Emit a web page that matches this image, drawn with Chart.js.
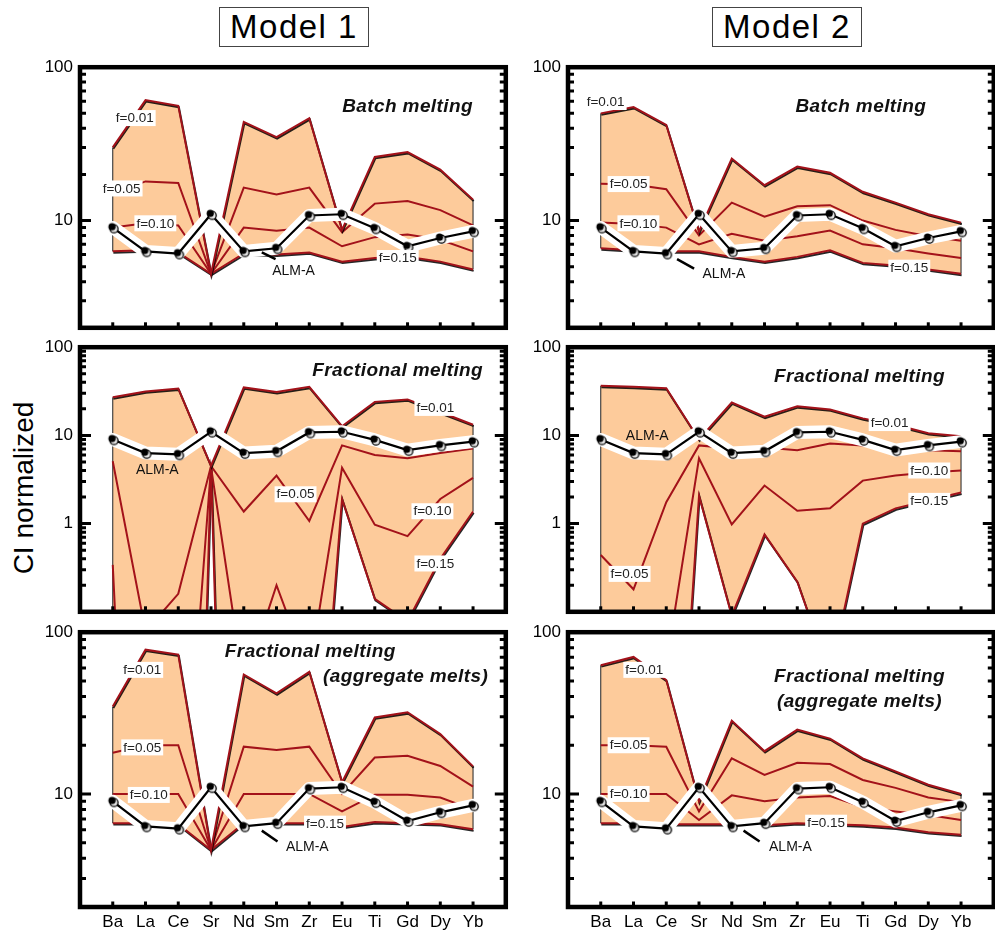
<!DOCTYPE html>
<html>
<head>
<meta charset="utf-8">
<script src="https://cdn.jsdelivr.net/npm/chart.js@4.4.1/dist/chart.umd.min.js"></script>
<style>
  body { margin: 0; background: #fff; width: 995px; height: 931px; overflow: hidden; position: relative;
         font-family: "Liberation Sans", Arial, sans-serif; }
  canvas { position: absolute; }
  .model { position: absolute; top: 7px; width: 148px; height: 38px; border: 1.3px solid #444;
           font-size: 33px; line-height: 38px; text-align: center; letter-spacing: 1.5px; color: #000; }
  #ylab { position: absolute; left: 24px; top: 488px; font-size: 28px; white-space: nowrap;
          transform: translate(-50%, -50%) rotate(-90deg); color: #000; }
</style>
</head>
<body>
<div class="model" style="left:219px">Model 1</div>
<div class="model" style="left:712px">Model 2</div>
<div id="ylab">CI normalized</div>
<canvas id="p1a"></canvas>
<canvas id="p1b"></canvas>
<canvas id="p2a"></canvas>
<canvas id="p2b"></canvas>
<canvas id="p3a"></canvas>
<canvas id="p3b"></canvas>
<script>
// ---------------- DATA ----------------
const elements = ['Ba', 'La', 'Ce', 'Sr', 'Nd', 'Sm', 'Zr', 'Eu', 'Ti', 'Gd', 'Dy', 'Yb'];
const fLabels = ['f=0.01', 'f=0.05', 'f=0.10', 'f=0.15'];

// sample
const almA = [9.0, 6.3, 6.1, 11.0, 6.3, 6.6, 10.8, 11.0, 8.9, 6.8, 7.7, 8.5];

// Model 1, batch melting
const m1BatchF01 = [30, 61, 56, 4.5, 44, 35, 46.5, 8.7, 26, 28, 21.5, 13.7];
const m1BatchF05 = [15, 18, 17.6, 4.5, 16.4, 14.8, 16.4, 8.4, 12.9, 13.4, 11.7, 9.3];
const m1BatchF10 = [9.0, 9.6, 9.3, 4.5, 9.0, 8.6, 9.0, 6.8, 7.8, 8.1, 7.5, 6.3];
const m1BatchF15 = [6.3, 6.4, 6.2, 4.5, 6.1, 6.0, 6.2, 5.4, 5.7, 5.8, 5.4, 4.8];

// Model 2, batch melting
const m2BatchF01 = [50, 55, 42, 8.5, 25.4, 17, 22.5, 20.5, 15.4, 13.1, 11, 9.7];
const m2BatchF05 = [17.4, 17.2, 16, 8.0, 13.1, 10.6, 12.4, 12.6, 10, 8.7, 7.9, 7.4];
const m2BatchF10 = [9.7, 9.5, 9.0, 7.0, 8.2, 7.4, 7.9, 8.6, 7.0, 6.6, 6.1, 5.7];
const m2BatchF15 = [6.6, 6.4, 6.3, 6.3, 5.8, 5.4, 5.8, 6.4, 5.3, 5.1, 4.8, 4.5];

// Model 1, fractional melting
const m1FracF01 = [27, 31.5, 34, 4.5, 35, 31, 35.5, 12.7, 24, 25.6, 18.4, 13.2];
const m1FracF05 = [5.1, 0.06, 0.16, 4.5, 1.37, 3.5, 1.07, 7.7, 6.0, 5.5, 6.3, 7.1];
const m1FracF10 = [0.34, 1e-8, 5e-5, 4.4, 0.015, 0.2, 0.02, 4.3, 0.97, 0.72, 1.9, 3.3];
const m1FracF15 = [1e-3, 1e-9, 1e-12, 4.3, 1e-12, 1e-6, 4e-5, 1.9, 0.14, 0.078, 0.4, 1.37];

// Model 2, fractional melting
const m2FracF01 = [36.5, 35.6, 34.2, 9, 23.6, 16.3, 21.4, 19.7, 15.6, 13.2, 10.6, 9.75];
const m2FracF05 = [0.44, 0.18, 1.75, 7.7, 7.1, 7.3, 6.8, 8.1, 7.7, 7.1, 6.8, 6.6];
const m2FracF10 = [1e-3, 1e-3, 0.025, 5.5, 0.98, 2.7, 1.4, 1.49, 3.07, 3.5, 3.8, 4.0];
const m2FracF15 = [1e-4, 1e-5, 5e-6, 2.07, 0.09, 0.755, 0.22, 0.019, 1.0, 1.49, 1.83, 2.25];

// Model 1, aggregate fractional melts
const m1AggF01 = [34.7, 78, 72.7, 4.5, 54.8, 41.9, 56.9, 11.8, 29.7, 32, 23.5, 14.8];
const m1AggF05 = [18, 20, 20, 4.5, 19.6, 18.7, 19.6, 10, 16.8, 17.2, 14.9, 11.1];
const m1AggF10 = [10, 10, 10, 4.5, 10, 10, 10, 7.8, 9.9, 9.9, 9.5, 8.0];
const m1AggF15 = [6.6, 6.6, 6.5, 4.5, 6.6, 6.6, 6.6, 6.25, 6.7, 6.6, 6.5, 6.05];

// Model 2, aggregate fractional melts
const m2AggF01 = [62.5, 70.3, 50.6, 9, 28.4, 18.4, 25, 22, 16.6, 13.8, 11.4, 10];
const m2AggF05 = [20, 20, 19.6, 7.8, 16.6, 13.1, 15.6, 15.3, 12.2, 10.9, 9.5, 8.9];
const m2AggF10 = [10, 10, 10, 6.9, 9.8, 9.0, 9.5, 9.7, 8.3, 7.8, 7.4, 6.9];
const m2AggF15 = [6.6, 6.6, 6.5, 6.5, 6.5, 6.4, 6.6, 6.5, 6.4, 6.2, 5.8, 5.6];

// ---------------- STYLE ----------------
const FONT = '"Liberation Sans", Arial, sans-serif';
const BAND = '#fdcb9b';
const RED = '#a3121a';

// ---------------- PANELS ----------------
const panels = [
  { id: 'p1a', left: 20, top: 50, height: 295, padTop: 15, padRight: 6, min: 2, showX: false,
    series: [m1BatchF01, m1BatchF05, m1BatchF10, m1BatchF15],
    tags: [[0.67, 46.6], [0.27, 16.2], [1.3, 9.6], [8.7, 5.7]],
    alm: { at: [5.52, 4.7], lead: [4.55, 6.2, 4.97, 5.6] },
    title: [['Batch melting', 9.0, 55]] },
  { id: 'p1b', left: 508, top: 50, height: 295, padTop: 15, padRight: 4, min: 2, showX: false,
    series: [m2BatchF01, m2BatchF05, m2BatchF10, m2BatchF15],
    tags: [[0.15, 59.3], [0.85, 17.3], [1.15, 9.6], [9.42, 4.93]],
    alm: { at: [3.76, 4.47], lead: [2.33, 5.6, 2.85, 4.86] },
    title: [['Batch melting', 7.94, 55]] },
  { id: 'p2a', left: 20, top: 330, height: 299, padTop: 17, padRight: 6, min: 0.1, showX: false,
    series: [m1FracF01, m1FracF05, m1FracF10, m1FracF15],
    tags: [[9.85, 20.5], [5.58, 2.15], [9.76, 1.38], [9.85, 0.353]],
    alm: { at: [1.36, 4.0], lead: null },
    title: [['Fractional melting', 8.7, 53.8]] },
  { id: 'p2b', left: 508, top: 330, height: 299, padTop: 17, padRight: 4, min: 0.1, showX: false,
    series: [m2FracF01, m2FracF05, m2FracF10, m2FracF15],
    tags: [[8.82, 13.8], [0.88, 0.269], [10.03, 4.0], [10.03, 1.81]],
    alm: { at: [1.42, 9.75], lead: null },
    title: [['Fractional melting', 7.9, 46.4]] },
  { id: 'p3a', left: 20, top: 615, height: 316, padTop: 15, padRight: 6, min: 2, showX: true,
    series: [m1AggF01, m1AggF05, m1AggF10, m1AggF15],
    tags: [[0.9, 58.5], [0.9, 19.4], [1.1, 9.86], [6.48, 6.55]],
    alm: { at: [5.94, 4.67], lead: [4.55, 5.93, 5.03, 5.08] },
    title: [['Fractional melting', 6.03, 75.4], ['(aggregate melts)', 8.94, 53]] },
  { id: 'p3b', left: 508, top: 615, height: 316, padTop: 15, padRight: 4, min: 2, showX: true,
    series: [m2AggF01, m2AggF05, m2AggF10, m2AggF15],
    tags: [[1.33, 58.5], [0.85, 20], [0.85, 10], [6.88, 6.64]],
    alm: { at: [5.79, 4.67], lead: [4.36, 5.93, 4.85, 5.08] },
    title: [['Fractional melting', 7.9, 53], ['(aggregate melts)', 7.9, 37.2]] }
];

// sample marker: black dot with an offset open ring
const marker = document.createElement('canvas');
marker.width = 14; marker.height = 14;
(function () {
  const c = marker.getContext('2d');
  c.beginPath(); c.arc(8.2, 8.2, 4, 0, Math.PI * 2);
  c.fillStyle = '#e8e8e8'; c.fill();
  c.lineWidth = 1.3; c.strokeStyle = '#000'; c.stroke();
  c.beginPath(); c.arc(6.2, 6.2, 3.6, 0, Math.PI * 2);
  c.fillStyle = '#000'; c.fill();
})();

const pts = arr => arr.map((v, i) => ({ x: i, y: v }));

function notesPlugin(p) {
  return {
    id: 'notes',
    beforeDatasetsDraw(chart) {
      // close the band at both ends with a thin line
      const { ctx, chartArea: a, scales: { x, y } } = chart;
      const top = p.series[0], bot = p.series[3];
      ctx.save();
      ctx.beginPath(); ctx.rect(a.left, a.top, a.width, a.height); ctx.clip();
      ctx.strokeStyle = '#222'; ctx.lineWidth = 1;
      [0, elements.length - 1].forEach(i => {
        const px = x.getPixelForValue(i);
        ctx.beginPath();
        ctx.moveTo(px, y.getPixelForValue(top[i]));
        ctx.lineTo(px, y.getPixelForValue(bot[i]));
        ctx.stroke();
      });
      ctx.restore();
    },
    // band edges get a thin dark line just under the red one
    beforeDatasetDraw(chart, args) {
      if (args.index === 0 || args.index === 3) {
        const ctx = chart.ctx;
        ctx.shadowColor = 'rgba(0,0,0,0.85)';
        ctx.shadowBlur = 0;
        ctx.shadowOffsetX = 0.6;
        ctx.shadowOffsetY = 1.4;
      }
    },
    afterDatasetDraw(chart) {
      const ctx = chart.ctx;
      ctx.shadowColor = 'rgba(0,0,0,0)';
      ctx.shadowOffsetX = 0;
      ctx.shadowOffsetY = 0;
    },
    afterDatasetsDraw(chart) {
      const { ctx, scales: { x, y } } = chart;
      ctx.save();
      ctx.textAlign = 'center';
      ctx.textBaseline = 'middle';

      // f labels in white boxes
      ctx.font = '13.5px ' + FONT;
      p.tags.forEach((t, i) => {
        const px = x.getPixelForValue(t[0]), py = y.getPixelForValue(t[1]);
        const w = ctx.measureText(fLabels[i]).width;
        ctx.fillStyle = '#fff';
        ctx.fillRect(px - w / 2 - 2, py - 8, w + 4, 16);
        ctx.fillStyle = '#222';
        ctx.fillText(fLabels[i], px, py + 0.5);
      });

      // sample label
      if (p.alm.lead) {
        const l = p.alm.lead;
        ctx.strokeStyle = '#000'; ctx.lineWidth = 2.5;
        ctx.beginPath();
        ctx.moveTo(x.getPixelForValue(l[0]), y.getPixelForValue(l[1]));
        ctx.lineTo(x.getPixelForValue(l[2]), y.getPixelForValue(l[3]));
        ctx.stroke();
      }
      ctx.font = '14px ' + FONT;
      ctx.fillStyle = '#111';
      ctx.fillText('ALM-A', x.getPixelForValue(p.alm.at[0]), y.getPixelForValue(p.alm.at[1]));

      // panel title
      ctx.font = 'italic bold 19px ' + FONT;
      ctx.letterSpacing = '0.4px';
      p.title.forEach(t => ctx.fillText(t[0], x.getPixelForValue(t[1]), y.getPixelForValue(t[2])));
      ctx.restore();
    },
    afterDraw(chart) {
      // heavy frame with inward ticks
      const { ctx, chartArea: a, scales: { x, y } } = chart;
      ctx.save();
      ctx.strokeStyle = '#000';
      ctx.lineWidth = 3;
      for (let e = Math.floor(Math.log10(p.min)); e < 2; e++) {
        for (let k = 1; k <= 9; k++) {
          const v = k * Math.pow(10, e);
          if (v <= p.min * 1.0001 || v >= 100) continue;
          const py = y.getPixelForValue(v);
          const len = k === 1 ? 11 : 6;
          ctx.beginPath();
          ctx.moveTo(a.left, py); ctx.lineTo(a.left + len, py);
          ctx.moveTo(a.right, py); ctx.lineTo(a.right - len, py);
          ctx.stroke();
        }
      }
      elements.forEach((_, i) => {
        const px = x.getPixelForValue(i);
        ctx.beginPath();
        ctx.moveTo(px, a.bottom); ctx.lineTo(px, a.bottom - 5.5);
        ctx.stroke();
      });
      ctx.lineWidth = 4.5;
      ctx.strokeRect(a.left, a.top, a.width, a.height);
      ctx.restore();
    }
  };
}

panels.forEach(p => {
  const cv = document.getElementById(p.id);
  cv.width = 495; cv.height = p.height;
  cv.style.left = p.left + 'px'; cv.style.top = p.top + 'px';

  const lines = p.series.map((s, i) => ({
    data: pts(s),
    borderColor: RED,
    borderWidth: 2,
    pointRadius: 0,
    tension: 0,
    fill: i === 0 ? 3 : false,
    backgroundColor: BAND,
    order: 10
  }));

  new Chart(cv, {
    type: 'line',
    data: {
      datasets: [
        ...lines,
        { data: pts(almA), borderColor: '#fff', borderWidth: 13, borderJoinStyle: 'round',
          borderCapStyle: 'round', pointRadius: 0, fill: false, order: 5 },
        { data: pts(almA), borderColor: '#000', borderWidth: 2.2, pointStyle: marker,
          pointRadius: 7, fill: false, order: 1 }
      ]
    },
    options: {
      responsive: false,
      animation: false,
      devicePixelRatio: 1,
      layout: { padding: { top: p.padTop, right: p.padRight, bottom: p.showX ? 0 : 4, left: 0 } },
      plugins: {
        legend: { display: false },
        tooltip: { enabled: false },
        filler: { drawTime: 'beforeDatasetsDraw' }
      },
      scales: {
        x: {
          type: 'linear', min: -1, max: 12,
          display: p.showX,
          grid: { display: false, drawTicks: false },
          border: { display: false },
          afterBuildTicks: s => { s.ticks = elements.map((_, i) => ({ value: i })); },
          afterFit: s => { s.height = p.showX ? 24 : 0; },
          ticks: { autoSkip: false, maxRotation: 0, padding: 5, color: '#000',
                   font: { family: FONT, size: 17 }, callback: v => elements[v] }
        },
        y: {
          type: 'logarithmic', min: p.min, max: 100,
          grid: { display: false, drawTicks: false },
          border: { display: false },
          afterBuildTicks: s => {
            s.ticks = [100, 10, 1].filter(v => v > p.min).map(v => ({ value: v }));
          },
          afterFit: s => { s.width = 60; },
          ticks: { padding: 7, color: '#000', font: { family: FONT, size: 17 },
                   callback: v => String(v) }
        }
      }
    },
    plugins: [notesPlugin(p)]
  });
});
</script>
</body>
</html>
